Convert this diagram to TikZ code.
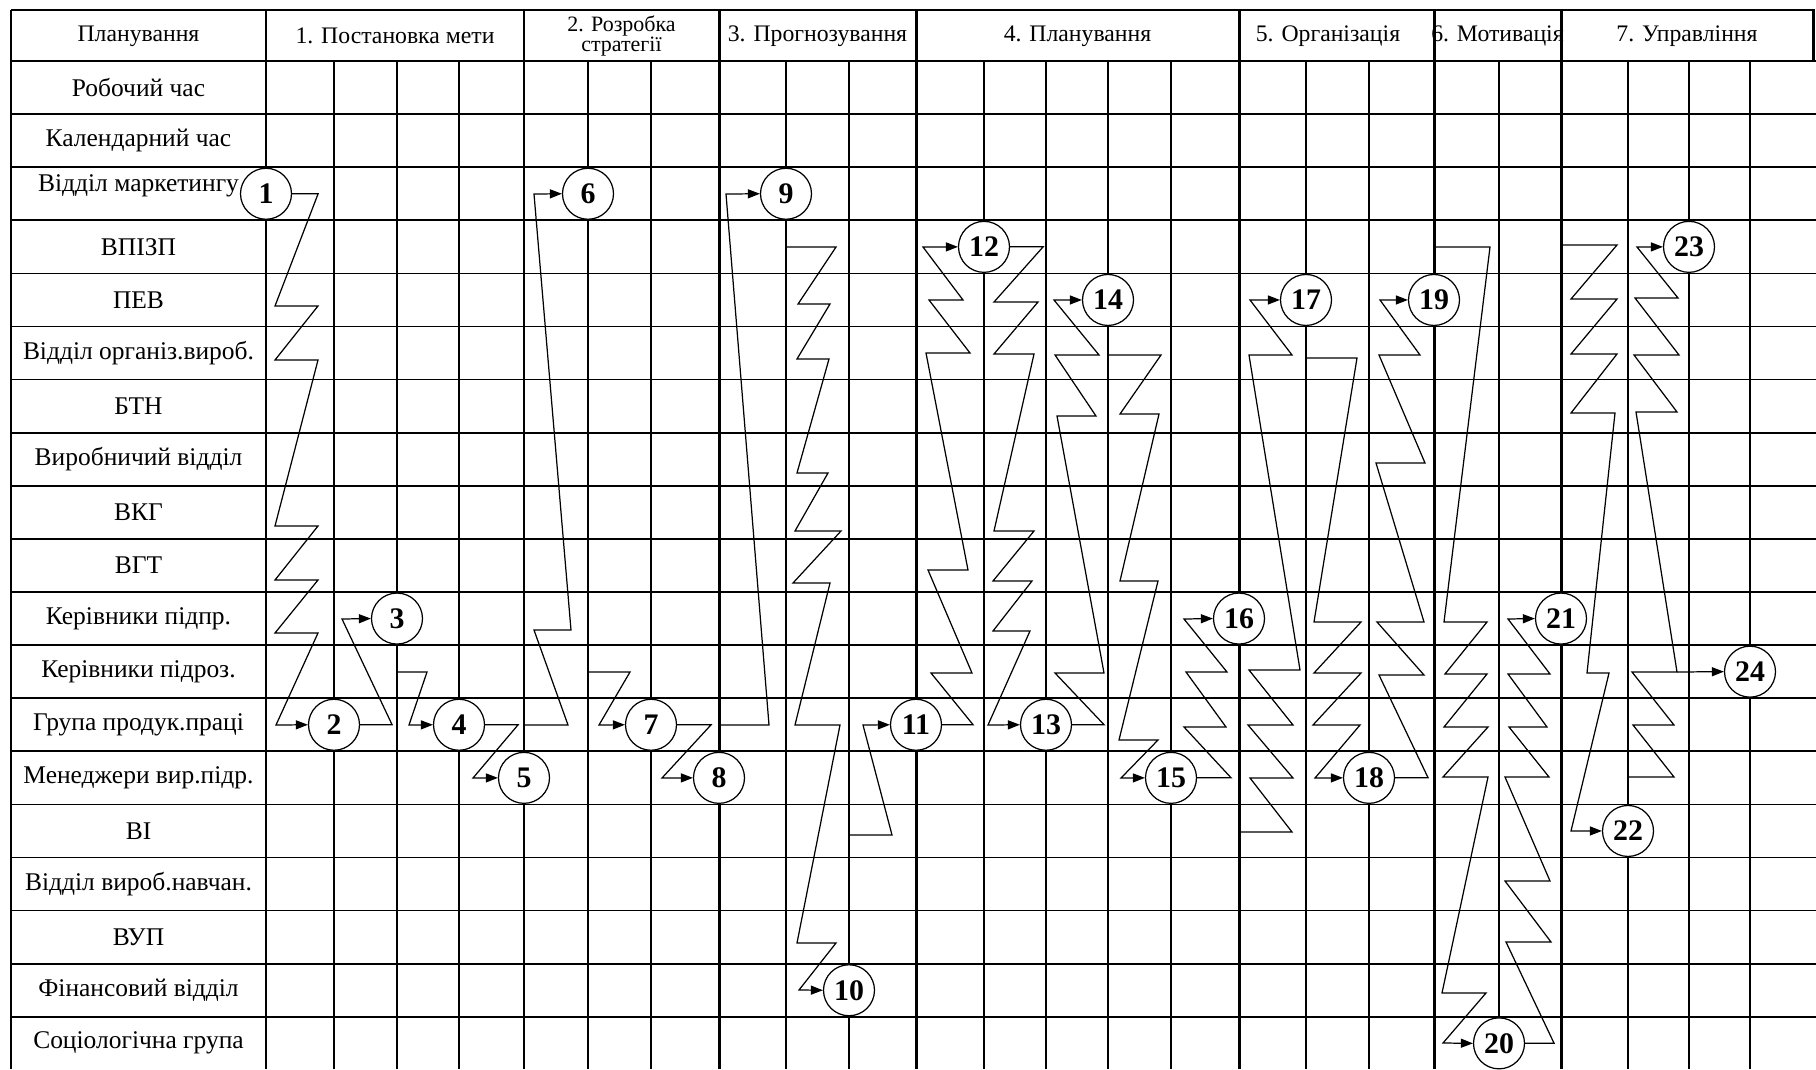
\documentclass[tikz,border=0pt]{standalone}
\usepackage{fontspec}
\setmainfont{Liberation Serif}
\usetikzlibrary{arrows.meta}

\begin{document}
\begin{tikzpicture}[x=0.02cm, y=-0.02cm,
    every node/.style={font=\fontsize{14.5}{16}\selectfont},
    head/.style={font=\fontsize{13.5}{14}\selectfont},
    stage/.style={circle, draw, fill=white, line width=0.7pt, minimum size=1.02cm,
      inner sep=0pt, font=\fontsize{17}{17}\selectfont\bfseries},
    flow/.style={line width=0.7pt, -{Triangle[length=2.4mm, width=1.8mm]}},
    thin line/.style={line width=0.7pt},
    row line/.style={line width=1pt},
    bold line/.style={line width=1.7pt}]

    \useasboundingbox (0,0) rectangle (1816,1069);

    % grid
    \foreach \x in {334,397,459,588,651,786,849,984,1046,1108,1171,1306,1369,1499,1628,1689,1750}
        \draw[thin line] (\x,61) -- (\x,1069);
    \foreach \row in {1,...,18}
        \draw[row line] (11,61+53.1*\row) -- (1816,61+53.1*\row);
    \draw[bold line] (11,10) -- (1813,10) -- (1813,61);
    \draw[bold line] (11,61) -- (1816,61);
    \draw[row line] (11,10) -- (11,1069);
    \foreach \x in {266,524,719,916,1239,1434,1561}
        \draw[bold line] (\x,10) -- (\x,1069);

    % column heads
    \node[head] (h0) at (138.5,36) {Планування};
    \node[head] (h1) at (395,36) {1. Постановка мети};
    \node[head, align=center, font=\fontsize{12.5}{11.5}\selectfont] (h2) at (621.5,36) {2. Розробка\\стратегії};
    \node[head] (h3) at (817.5,36) {3. Прогнозування};
    \node[head] (h4) at (1077.5,36) {4. Планування};
    \node[head] (h5) at (1328,36) {5. Організація};
    \node[head] (h6) at (1497.5,36) {6. Мотивація};
    \node[head] (h7) at (1687,36) {7. Управління};

    % row labels
    \foreach \lab/\dy [count=\row from 0] in {Робочий час/0, Календарний час/0,
        Відділ маркетингу/-8, ВПІЗП/0, ПЕВ/0, Відділ організ.вироб./0, БТН/0,
        Виробничий відділ/0, ВКГ/0, ВГТ/0, Керівники підпр./0, Керівники підроз./0,
        Група продук.праці/0, Менеджери вир.підр./0, ВІ/0, Відділ вироб.навчан./0,
        ВУП/0, Фінансовий відділ/0, Соціологічна група/0}
        \node (row\row) at (138.5,87.5+53.1*\row+\dy) {\lab};

    % stages
    \foreach \n/\x/\row in {1/266/2, 2/334/12, 3/397/10, 4/459/12, 5/524/13, 6/588/2,
        7/651/12, 8/719/13, 9/786/2, 10/849/17, 11/916/12, 12/984/3, 13/1046/12,
        14/1108/4, 15/1171/13, 16/1239/10, 17/1306/4, 18/1369/13, 19/1434/4,
        20/1499/18, 21/1561/10, 22/1628/14, 23/1689/3, 24/1750/11}
        \node[stage] (c\n) at (\x,87.55+53.1*\row) {\n};

    % taps on the time lines
    \coordinate (t3) at (397,672);
    \coordinate (t5) at (524,725);
    \coordinate (t6) at (588,672);
    \coordinate (t8) at (719,725);
    \coordinate (t9) at (786,247);
    \coordinate (t10) at (849,835);
    \coordinate (t14) at (1108,355);
    \coordinate (t16) at (1239,832);
    \coordinate (t17) at (1306,358);
    \coordinate (t19) at (1434,247);
    \coordinate (t21) at (1561,245);
    \coordinate (t22) at (1628,777);
    \coordinate (t23) at (1677,672);

    % flows
    \draw[flow] (c1.east) -- +(26,0) -- (275,306) -- (318,306) -- (275,360) -- (318,360)
        -- (275,526) -- (318,526) -- (275,580) -- (318,580) -- (275,633) -- (318,633)
        -- (276,725) -- (c2.west);
    \draw[flow] (c2.east) -- +(32,0) -- (342,619) -- (c3.west);
    \draw[flow] (t3) -- (427,672) -- (409,725) -- (c4.west);
    \draw[flow] (c4.east) -- +(33,0) -- (473,778) -- (c5.west);
    \draw[flow] (t5) -- (568,725) -- (534,630) -- (571,630) -- (534,194) -- (c6.west);
    \draw[flow] (t6) -- (630,672) -- (599,725) -- (c7.west);
    \draw[flow] (c7.east) -- +(34,0) -- (662,778) -- (c8.west);
    \draw[flow] (t8) -- (769,725) -- (726,194) -- (c9.west);
    \draw[flow] (t9) -- (836,247) -- (798,304) -- (830,304) -- (797,359) -- (829,359)
        -- (797,473) -- (828,473) -- (795,531) -- (841,531) -- (793,583) -- (830,583)
        -- (795,725) -- (840,725) -- (797,943) -- (836,943) -- (799,990) -- (c10.west);
    \draw[flow] (t10) -- (892,835) -- (863,725) -- (c11.west);
    \draw[flow] (c11.east) -- +(31,0) -- (931,673) -- (972,673) -- (928,570) -- (968,570)
        -- (926,353) -- (970,353) -- (929,300) -- (963,300) -- (923,247) -- (c12.west);
    \draw[flow] (c12.east) -- +(33,0) -- (994,302) -- (1038,302) -- (994,354) -- (1034,354)
        -- (994,531) -- (1034,531) -- (993,581) -- (1032,581) -- (993,631) -- (1030,631)
        -- (988,725) -- (c13.west);
    \draw[flow] (c13.east) -- +(32,0) -- (1055,673) -- (1104,673) -- (1057,416) -- (1096,416)
        -- (1055,355) -- (1099,355) -- (1054,300) -- (c14.west);
    \draw[flow] (t14) -- (1161,355) -- (1120,414) -- (1159,414) -- (1120,581) -- (1158,581)
        -- (1119,740) -- (1158,740) -- (1121,778) -- (c15.west);
    \draw[flow] (c15.east) -- +(34,0) -- (1184,727) -- (1226,727) -- (1186,672) -- (1227,672)
        -- (1184,619) -- (c16.west);
    \draw[flow] (t16) -- (1292,832) -- (1250,778) -- (1293,778) -- (1248,725) -- (1293,725)
        -- (1249,670) -- (1300,670) -- (1249,355) -- (1292,355) -- (1250,300) -- (c17.west);
    \draw[flow] (t17) -- (1357,358) -- (1314,622) -- (1361,622) -- (1314,673) -- (1361,673)
        -- (1313,725) -- (1360,725) -- (1315,778) -- (c18.west);
    \draw[flow] (c18.east) -- +(33,0) -- (1379,675) -- (1424,675) -- (1377,622) -- (1424,622)
        -- (1376,463) -- (1425,463) -- (1379,355) -- (1420,355) -- (1380,300) -- (c19.west);
    \draw[flow] (t19) -- (1490,247) -- (1444,622) -- (1487,622) -- (1445,674) -- (1487,674)
        -- (1444,727) -- (1488,727) -- (1443,777) -- (1488,777) -- (1442,993) -- (1486,993)
        -- (1443,1043) -- (c20.west);
    \draw[flow] (c20.east) -- +(29,0) -- (1506,942) -- (1551,942) -- (1505,881) -- (1550,881)
        -- (1505,777) -- (1549,777) -- (1509,727) -- (1547,727) -- (1508,674) -- (1550,674)
        -- (1508,619) -- (c21.west);
    \draw[flow] (t21) -- (1617,245) -- (1571,299) -- (1617,299) -- (1571,354) -- (1617,354)
        -- (1571,413) -- (1615,413) -- (1587,673) -- (1609,673) -- (1571,831) -- (c22.west);
    \draw[flow] (t22) -- (1674,777) -- (1633,725) -- (1674,725) -- (1632,672) -- (1677,672)
        -- (1636,412) -- (1677,412) -- (1634,355) -- (1679,355) -- (1635,298) -- (1678,298)
        -- (1637,247) -- (c23.west);
    \draw[flow] (t23) -- (c24.west);
\end{tikzpicture}
\end{document}
